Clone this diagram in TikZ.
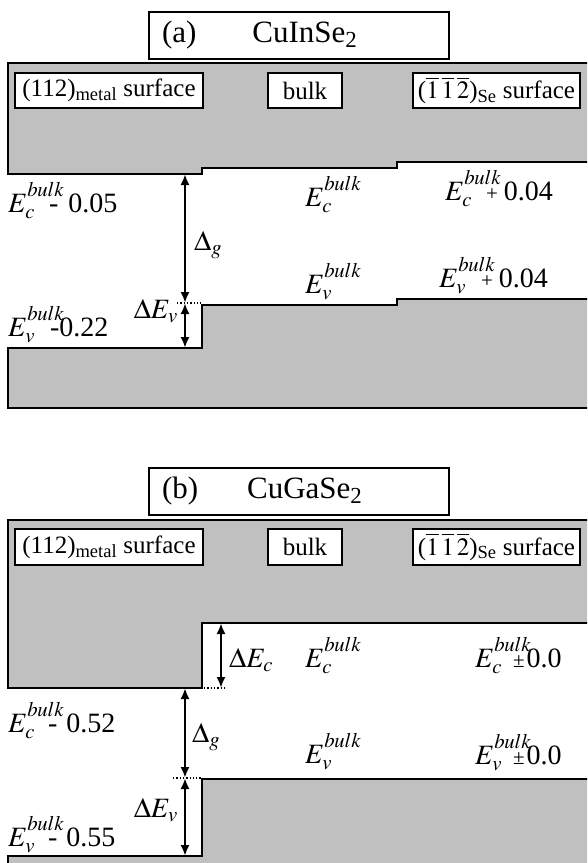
\documentclass[tikz,border=0pt]{standalone}
\usepackage{mathptmx}
\usepackage{fontspec}
\setmainfont{Liberation Serif}
\usepackage{tikz}
\usetikzlibrary{arrows.meta}
\definecolor{bandgray}{HTML}{C0C0C0}

\newcommand{\Eb}[1]{$E_{#1}^{\rlap{\raisebox{5pt}{$\scriptstyle bulk$}}}$}
\newcommand{\sgn}[1]{{\fontsize{21}{21}\selectfont #1}}

\tikzset{
  band/.style={draw=black, line width=2.5pt, fill=bandgray},
  titlebox/.style={draw, line width=2pt, fill=white, minimum height=47pt, text width=274pt,
    inner xsep=13pt, inner ysep=0pt, align=left, font=\fontsize{31}{36}\selectfont},
  labbox/.style={draw, line width=2pt, fill=white, minimum height=35pt, inner sep=2pt,
    font=\fontsize{25}{28}\selectfont},
  elab/.style={anchor=base west, inner sep=0pt, font=\fontsize{28}{30}\selectfont},
  dlab/.style={inner sep=0pt, font=\fontsize{28}{30}\selectfont},
  gap/.style={line width=2.3pt, {Latex[length=11pt,width=9pt]}-{Latex[length=11pt,width=9pt]}},
  lvl/.style={dotted, line width=1.3pt}
}

\begin{document}
\begin{tikzpicture}[x=1pt, y=-1pt]
  \useasboundingbox (0,0) rectangle (587,863);
  \clip (0,0) rectangle (587,863);

  % (a) CuInSe2 bands
  \draw[band] (8,63) -- (600,63) -- (600,162) -- (397,162) -- (397,168) -- (202,168) -- (202,174) -- (8,174) -- cycle;
  \draw[band] (8,348) -- (202,348) -- (202,305) -- (397,305) -- (397,299) -- (600,299) -- (600,408) -- (8,408) -- cycle;

  \node[titlebox] (titleA) at (299,35.5) {(a)\hspace{56pt}CuInSe\textsubscript{2}};
  \node[labbox, minimum width=188pt] (metalA) at (109,90.5) {(112)\textsubscript{metal} surface};
  \node[labbox, minimum width=74pt] (bulkA) at (305,90.5) {bulk};
  \node[labbox, minimum width=167pt] (seA) at (496.5,90.5) {(\(\overline{1}\,\overline{1}\,\overline{2}\))\textsubscript{Se} surface};

  % band edges (a)
  \node[elab] (ecA1) at (8,212) {\Eb{c}\hspace{14pt}-\hspace{10pt}0.05};
  \node[elab] (ecA2) at (305,206) {\Eb{c}};
  \node[elab] (ecA3) at (445,200) {\Eb{c}\hspace{14pt}\sgn{+}\hspace{6pt}0.04};
  \node[elab] (evA1) at (8,336) {\Eb{v}\hspace{15pt}-0.22};
  \node[elab] (evA2) at (305,293) {\Eb{v}};
  \node[elab] (evA3) at (439,287) {\Eb{v}\hspace{15pt}\sgn{+}\hspace{6pt}0.04};

  % offsets (a)
  \coordinate (cA) at (185,174);
  \coordinate (mA) at (185,303);
  \coordinate (vA) at (185,348);
  \coordinate (mA0) at (177,303);
  \coordinate (mA1) at (202,303);
  \draw[lvl] (mA0) -- (mA1);
  \draw[gap] (cA) -- (mA);
  \draw[gap] (mA) -- (vA);
  \node[dlab, anchor=west] (dgA) at (194,245) {$\Delta_g$};
  \node[dlab, anchor=east] (dvA) at (178,311) {$\Delta E_v$};

  % (b) CuGaSe2 bands
  \draw[band] (8,520) -- (600,520) -- (600,623) -- (202,623) -- (202,688) -- (8,688) -- cycle;
  \draw[band] (8,856) -- (202,856) -- (202,779) -- (600,779) -- (600,900) -- (8,900) -- cycle;

  \node[titlebox] (titleB) at (299,491) {(b)\hspace{49pt}CuGaSe\textsubscript{2}};
  \node[labbox, minimum width=188pt, minimum height=36pt] (metalB) at (109,547) {(112)\textsubscript{metal} surface};
  \node[labbox, minimum width=74pt, minimum height=36pt] (bulkB) at (305,547) {bulk};
  \node[labbox, minimum width=167pt, minimum height=36pt] (seB) at (496.5,547) {(\(\overline{1}\,\overline{1}\,\overline{2}\))\textsubscript{Se} surface};

  % band edges (b)
  \node[elab] (ecB1) at (8,732) {\Eb{c}\hspace{13pt}-\hspace{9pt}0.52};
  \node[elab] (ecB2) at (305,667) {\Eb{c}};
  \node[elab] (ecB3) at (475,667) {\Eb{c}\hspace{11pt}\sgn{±}\hspace{2pt}0.0};
  \node[elab] (evB1) at (8,846) {\Eb{v}\hspace{13pt}-\hspace{9pt}0.55};
  \node[elab] (evB2) at (305,763) {\Eb{v}};
  \node[elab] (evB3) at (475,764) {\Eb{v}\hspace{11pt}\sgn{±}\hspace{2pt}0.0};

  % offsets (b)
  \coordinate (cB0) at (221,623);
  \coordinate (cB1) at (221,688);
  \coordinate (gB0) at (185,688);
  \coordinate (gB1) at (185,778);
  \coordinate (vB) at (185,856);
  \coordinate (lB0) at (204,688);
  \coordinate (lB1) at (227,688);
  \coordinate (mB0) at (173,778);
  \coordinate (mB1) at (202,778);
  \draw[lvl] (lB0) -- (lB1);
  \draw[lvl] (mB0) -- (mB1);
  \draw[gap] (cB0) -- (cB1);
  \draw[gap] (gB0) -- (gB1);
  \draw[gap] (gB1) -- (vB);
  \node[dlab, anchor=base west] (dcB) at (229,667) {$\Delta E_c$};
  \node[dlab, anchor=west] (dgB) at (192,737) {$\Delta_g$};
  \node[dlab, anchor=east] (dvB) at (178,810) {$\Delta E_v$};
\end{tikzpicture}
\end{document}
